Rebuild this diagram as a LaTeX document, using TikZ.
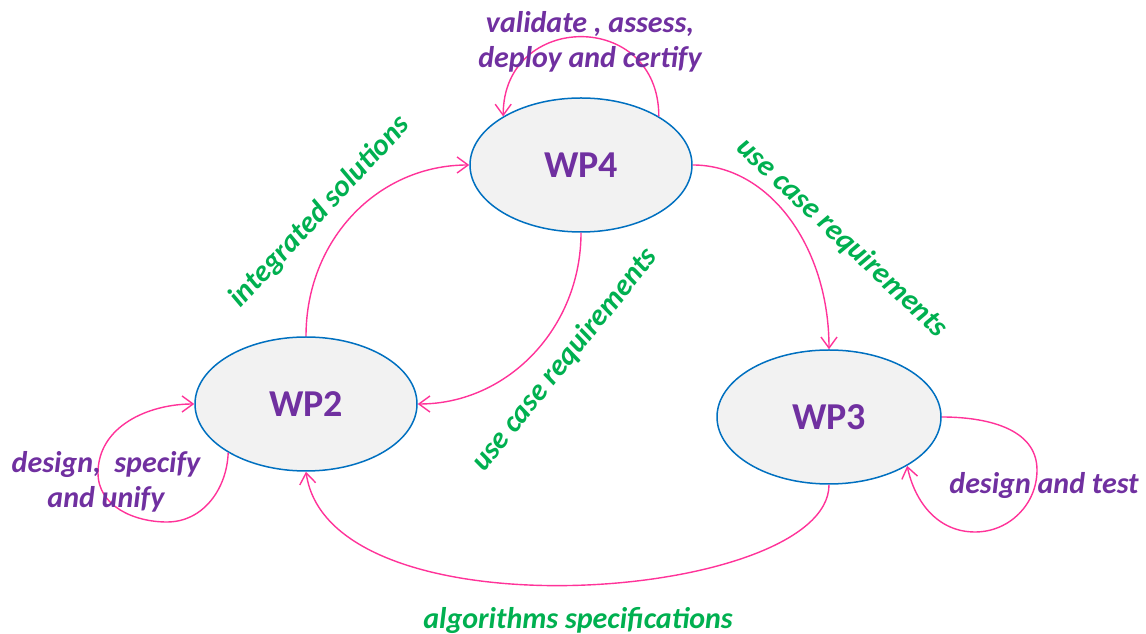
\documentclass[tikz,border=0pt]{standalone}
\usepackage{fontspec}
\setmainfont{Carlito}
\usetikzlibrary{shapes.geometric,arrows.meta}
\definecolor{wpfill}{HTML}{F2F2F2}
\definecolor{wpline}{HTML}{0070C0}
\definecolor{flow}{HTML}{FF3399}
\definecolor{purp}{HTML}{7030A0}
\definecolor{grn}{HTML}{00B050}
\begin{document}
\begin{tikzpicture}[x=1pt,y=1pt,
  wp/.style={ellipse, draw=wpline, fill=wpfill, line width=1.5pt,
    minimum width=222pt, minimum height=134pt, inner sep=0pt,
    text=purp, font=\fontsize{38}{42}\selectfont\bfseries},
  flowarrow/.style={draw=flow, line width=1.4pt,
    -{Straight Barb[length=11pt,width=16pt]}},
  task/.style={text=purp, font=\fontsize{30}{35}\selectfont\bfseries\itshape,
    align=center, inner sep=0pt},
  outlabel/.style={text=grn, font=\fontsize{30}{34}\selectfont\bfseries\itshape,
    inner sep=0pt}]
\useasboundingbox (0,0) rectangle (1146,634);

% work packages
\node[wp] (wp4) at (581,469) {WP4};
\node[wp] (wp2) at (306,230) {WP2};
\node[wp, minimum width=224pt] (wp3) at (829,217) {WP3};

% flows between work packages
\draw[flowarrow] (wp2.north) .. controls +(0,97) and +(-91,0) .. (wp4.west);
\draw[flowarrow] (wp4.south) .. controls +(0,-95) and +(90,0) .. (wp2.east);
\draw[flowarrow] (wp4.east) .. controls +(76,0) and +(0,103) .. (wp3.north);
\draw[flowarrow] (wp3.south) .. controls +(0,-116) and +(24,-169) .. (wp2.south);

% self loops
\draw[flowarrow] (wp4.32) .. controls +(0,107) and +(0,105) .. (wp4.148);
\coordinate (l2b) at (167,112);
\coordinate (l2l) at (98,161);
\draw[flowarrow] (wp2.212) to[out=-92,in=0] (l2b) to[out=180,in=-90] (l2l)
  to[out=90,in=180] (wp2.west);
\coordinate (l3r) at (1037,164);
\coordinate (l3b) at (975,102);
\draw[flowarrow] (wp3.east) to[out=0,in=90] (l3r) to[out=-90,in=0] (l3b)
  to[out=180,in=-78] (wp3.-32);

% activity labels
\node[task] (t4) at (590,592) {validate , assess,\\deploy and certify};
\node[task] (t2) at (106,152) {design,~ specify\\and unify};
\node[task] (t3) at (1044,148) {design and test};

% flow labels
\node[outlabel, rotate=47] (o24) at (320,422) {integrated solutions};
\node[outlabel, rotate=-43] (o43) at (842,396) {use case requirements};
\node[outlabel, rotate=51] (o42) at (565,274) {use case requirements};
\node[outlabel] (o32) at (578,14) {algorithms specifications};
\end{tikzpicture}
\end{document}
